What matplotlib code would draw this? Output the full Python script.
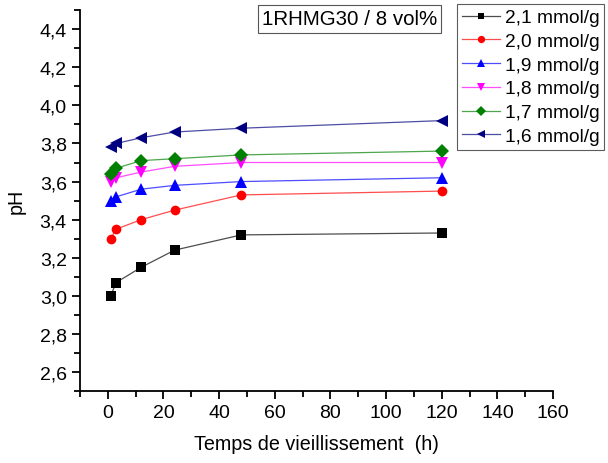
import matplotlib
matplotlib.use('Agg')
import matplotlib.pyplot as plt
from matplotlib.colors import to_rgb
from matplotlib.ticker import MultipleLocator, FuncFormatter

plt.rcParams['font.family'] = ['Liberation Sans', 'DejaVu Sans']

# temps de vieillissement (h)
temps = [1, 3, 12, 24, 48, 120]

labels = ['2,1 mmol/g', '2,0 mmol/g', '1,9 mmol/g', '1,8 mmol/g', '1,7 mmol/g', '1,6 mmol/g']
ph_21 = [3.00, 3.07, 3.15, 3.24, 3.32, 3.33]
ph_20 = [3.30, 3.35, 3.40, 3.45, 3.53, 3.55]
ph_19 = [3.50, 3.52, 3.56, 3.58, 3.60, 3.62]
ph_18 = [3.60, 3.62, 3.65, 3.68, 3.70, 3.70]
ph_17 = [3.64, 3.67, 3.71, 3.72, 3.74, 3.76]
ph_16 = [3.78, 3.80, 3.83, 3.86, 3.88, 3.92]

series = [ph_21, ph_20, ph_19, ph_18, ph_17, ph_16]
colors = ['black', 'red', 'blue', 'magenta', 'green', 'navy']
markers = ['s', 'o', '^', 'v', 'D', '<']
msizes = [6.5, 7, 8, 8, 7, 8]


def eclaircir(c, f=0.3):
    # couleur de ligne un peu plus claire que le symbole
    r, g, b = to_rgb(c)
    return (r + (1 - r) * f, g + (1 - g) * f, b + (1 - b) * f)


fig = plt.figure(figsize=(6.08, 4.64), dpi=100)
ax = fig.add_axes([0.1316, 0.155, 0.778, 0.821])

for y, c, m, ms, lab in zip(series, colors, markers, msizes, labels):
    ax.plot(temps, y, color=eclaircir(c), marker=m, markersize=ms, linewidth=0.9,
            markerfacecolor=c, markeredgewidth=0, label=lab)

ax.set_xlim(-10, 160)
ax.set_ylim(2.5, 4.5)
ax.xaxis.set_major_locator(MultipleLocator(20))
ax.xaxis.set_minor_locator(MultipleLocator(10))
ax.yaxis.set_major_locator(MultipleLocator(0.2))
ax.yaxis.set_minor_locator(MultipleLocator(0.1))
ax.yaxis.set_major_formatter(FuncFormatter(lambda v, p: f'{v:.1f}'.replace('.', ',')))

ax.spines['top'].set_visible(False)
ax.spines['right'].set_visible(False)
ax.spines['left'].set_linewidth(1.3)
ax.spines['bottom'].set_linewidth(1.3)
ax.tick_params(which='major', direction='out', length=6, width=1.3, labelsize=14)
ax.tick_params(which='minor', direction='out', length=4, width=1.3)

ax.set_xlabel('Temps de vieillissement  (h)', fontsize=14.2, labelpad=9)
ax.set_ylabel('pH', fontsize=14.2, labelpad=10)

# boîte titre
fig.text(0.431, 0.957, '1RHMG30 / 8 vol%', fontsize=14.8, ha='left', va='center',
         bbox=dict(boxstyle='square,pad=0.2', fc='white', ec='#555555', lw=0.8))

leg = ax.legend(loc='upper left', bbox_to_anchor=(0.797, 1.016), frameon=True,
                fancybox=False, edgecolor='#333333', fontsize=13.8,
                handlelength=2.0, handletextpad=0.25, labelspacing=0.33,
                borderpad=0.25, borderaxespad=0, markerscale=0.75)
leg.get_frame().set_linewidth(0.8)

fig.savefig('out.png', dpi=100)
